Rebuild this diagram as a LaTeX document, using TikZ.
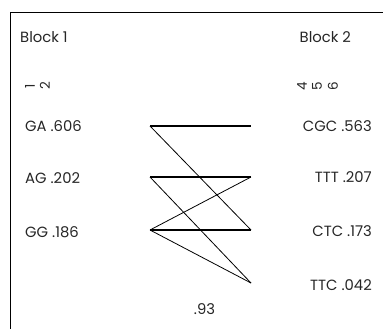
\documentclass[tikz,border=0pt]{standalone}
\usepackage{fontspec}
\setmainfont{Poppins}
\begin{document}
\begin{tikzpicture}[x=1pt,y=-1pt,
  lbl/.style={inner sep=0pt,font=\fontsize{14.8}{15}\selectfont,text=black!85},
  dig/.style={inner sep=0pt,font=\fontsize{13.5}{14}\selectfont,rotate=90,text=black!85},
  strong/.style={line width=1.7pt},
  weak/.style={line width=0.8pt}]
\useasboundingbox (0,0) rectangle (383,329);
% frame
\draw[line width=1pt] (384,13) -- (10,13) -- (10,330);
% headers
\node[lbl,anchor=west] (b1) at (20,37.5) {Block 1};
\node[lbl,anchor=west] (b2) at (299.5,37.5) {Block 2};
\node[dig] (d1) at (30,86) {1};
\node[dig] (d2) at (45,86) {2};
\node[dig] (d4) at (302,86) {4};
\node[dig] (d5) at (317,86) {5};
\node[dig] (d6) at (333,86) {6};
% left labels
\node[lbl,anchor=west] (t1) at (25,126.5) {GA .606};
\node[lbl,anchor=west] (t2) at (25,178) {AG .202};
\node[lbl,anchor=west] (t3) at (25,232) {GG .186};
% right labels
\node[lbl,anchor=east] (u1) at (372,126) {CGC .563};
\node[lbl,anchor=east] (u2) at (372,177.5) {TTT .207};
\node[lbl,anchor=east] (u3) at (372,231) {CTC .173};
\node[lbl,anchor=east] (u4) at (372,285.5) {TTC .042};
\node[lbl] (m) at (204.5,309) {.93};
% endpoints
\coordinate (L1) at (150,126);
\coordinate (L2) at (150,177);
\coordinate (L3) at (150,230);
\coordinate (R1) at (251,126);
\coordinate (R2) at (251,177);
\coordinate (R3) at (251,230);
\coordinate (R4) at (251,283);
% connectors
\draw[strong] (L1) -- (R1);
\draw[strong] (L2) -- (R2);
\draw[strong] (L3) -- (R3);
\draw[weak] (L1) -- (R3);
\draw[weak] (L2) -- (R4);
\draw[weak] (L3) -- (R2);
\draw[weak] (L3) -- (R4);
\end{tikzpicture}
\end{document}
